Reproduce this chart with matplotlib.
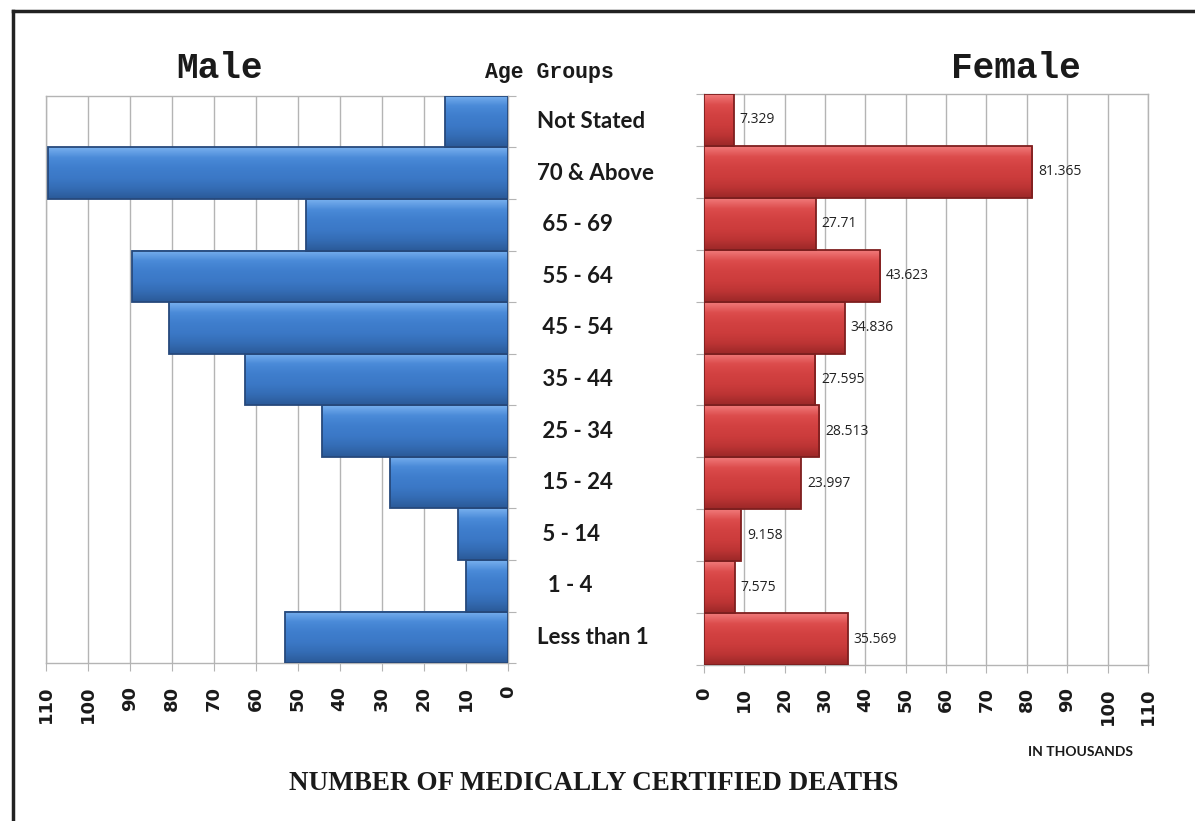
"""
Medically certified deaths by age group and sex (in thousands),
drawn as a back-to-back horizontal bar chart.
"""

import numpy as np
import matplotlib
matplotlib.use("Agg")
import matplotlib.pyplot as plt
from matplotlib.lines import Line2D
from matplotlib.colors import LinearSegmentedColormap
from matplotlib.transforms import blended_transform_factory

# ── Data (top row first) ─────────────────────────────────────────────────────
age_groups = ["Not Stated", "70 & Above", " 65 - 69", " 55 - 64", " 45 - 54",
              " 35 - 44", " 25 - 34", " 15 - 24", " 5 - 14", "  1 - 4",
              "Less than 1"]
male   = [15.0, 109.4, 47.9, 89.4, 80.6, 62.5, 44.1, 27.9, 11.7, 9.9, 53.0]
female = [7.329, 81.365, 27.71, 43.623, 34.836, 27.595, 28.513, 23.997,
          9.158, 7.575, 35.569]
xticks = list(range(0, 111, 10))

# bottom-to-top for barh
age_groups = age_groups[::-1]
male       = male[::-1]
female     = female[::-1]
ypos       = list(range(len(age_groups)))

BLUE_EDGE = "#26497c"
RED_EDGE  = "#7e1f1f"
GRID = "#b4b4b4"

# vertical shading for the bevelled bar look (bottom -> top)
blue_cmap = LinearSegmentedColormap.from_list(
    "blue_bar", ["#2b5a98", "#346cb4", "#3b78c6", "#3f7ecd", "#4a8ad8", "#78b0ee"])
red_cmap = LinearSegmentedColormap.from_list(
    "red_bar", ["#9c2828", "#bc3434", "#cc3c3c", "#d24141", "#dc4c4c", "#f07a7a"])
shade = np.linspace(0, 1, 64).reshape(-1, 1)

fig = plt.figure(figsize=(11.95, 8.21), dpi=100, facecolor="white")
ax_m = fig.add_axes([0.0382, 0.1921, 0.3866, 0.6913])
ax_f = fig.add_axes([0.5891, 0.1900, 0.3715, 0.6955])


def style_axis(ax):
    ax.set_xticks(xticks)
    ax.set_xticklabels([str(t) for t in xticks], rotation=90,
                       fontsize=13, fontweight="bold", color="#1a1a1a",
                       family="DejaVu Sans")
    ax.tick_params(axis="x", length=6, color=GRID, pad=10)
    ax.set_yticks([y + 0.5 for y in ypos[:-1]] + [-0.5, len(ypos) - 0.5])
    ax.set_yticklabels([])
    ax.tick_params(axis="y", length=6, color=GRID)
    ax.grid(axis="x", color=GRID, linewidth=1.0)
    ax.set_axisbelow(True)
    for s in ax.spines.values():
        s.set_color(GRID)
        s.set_linewidth(1.0)


def shaded_bars(ax, values, cmap, edge):
    bars = ax.barh(ypos, values, height=1.0, color="none", edgecolor=edge,
                   linewidth=1.3, zorder=4)
    for bar in bars:
        x0, y0 = bar.get_x(), bar.get_y()
        w, h = bar.get_width(), bar.get_height()
        ax.imshow(shade, cmap=cmap, origin="lower", aspect="auto",
                  extent=[x0, x0 + w, y0, y0 + h], zorder=3,
                  interpolation="bilinear")
    return bars


style_axis(ax_m)
style_axis(ax_f)
ax_m.yaxis.tick_right()

shaded_bars(ax_m, male, blue_cmap, BLUE_EDGE)
shaded_bars(ax_f, female, red_cmap, RED_EDGE)

for ax in (ax_m, ax_f):
    ax.set_xlim(0, 110)
    ax.set_ylim(-0.5, len(ypos) - 0.5)
    ax.set_aspect("auto")
ax_m.invert_xaxis()

# value labels on female side
for y, v in zip(ypos, female):
    ax_f.text(v + 1.5, y, str(v), va="center", ha="left", fontsize=10,
              family="Open Sans", color="#222222", zorder=5)

# age group labels between the two panels
trans = blended_transform_factory(fig.transFigure, ax_m.transData)
for y, lab in zip(ypos, age_groups):
    ax_m.text(0.449, y, lab, transform=trans, ha="left", va="center",
              fontsize=16, fontweight="bold", family="Lato", color="#1a1a1a",
              clip_on=False)

# titles
fig.text(0.184, 0.917, "Male", ha="center", va="center", fontsize=26,
         fontweight="bold", family="Liberation Mono", color="#1a1a1a")
fig.text(0.850, 0.917, "Female", ha="center", va="center", fontsize=26,
         fontweight="bold", family="Liberation Mono", color="#1a1a1a")
fig.text(0.460, 0.912, "Age Groups", ha="center", va="center", fontsize=15.5,
         fontweight="bold", family="Liberation Mono", color="#1a1a1a")
fig.text(0.904, 0.084, "IN THOUSANDS", ha="center", va="center", fontsize=10,
         fontweight="bold", family="Lato", color="#1a1a1a")
fig.text(0.497, 0.046, "NUMBER OF MEDICALLY CERTIFIED DEATHS", ha="center",
         va="center", fontsize=19.5, fontweight="bold", family="Liberation Serif",
         color="#1a1a1a")

# page border (top and left only, as cropped in the original)
fig.add_artist(Line2D([0.0105, 1.0], [0.986, 0.986], transform=fig.transFigure,
                      color="#222222", linewidth=2.5))
fig.add_artist(Line2D([0.0105, 0.0105], [0.0, 0.986], transform=fig.transFigure,
                      color="#222222", linewidth=2.5))

fig.savefig("out.png", dpi=100, facecolor="white")
plt.close(fig)
